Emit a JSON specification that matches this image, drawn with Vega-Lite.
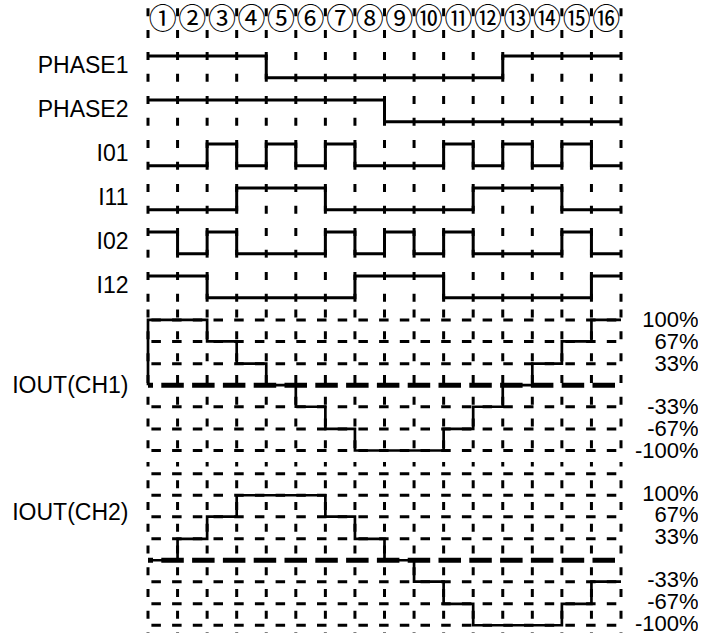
{
  "$schema": "https://vega.github.io/schema/vega-lite/v6.json",
  "background": "white",
  "padding": {"left": 11, "top": 0, "right": 0, "bottom": 0},
  "spacing": 0,
  "bounds": "flush",
  "config": {
    "view": {"stroke": null},
    "mark": {"color": "black"},
    "axis": {"domain": false, "ticks": false, "tickSize": 0, "grid": false, "labels": false,
      "titleFont": "Liberation Sans", "titleFontSize": 23, "titleFontWeight": "normal", "titleColor": "#000",
      "labelFont": "Liberation Sans", "labelFontSize": 22, "labelColor": "#000"},
    "axisY": {"titleAngle": 0, "titleAlign": "right", "titleBaseline": "middle", "titleX": -20}
  },
  "datasets": {
    "ticks": [{"t":0},{"t":1},{"t":2},{"t":3},{"t":4},{"t":5},{"t":6},{"t":7},{"t":8},{"t":9},{"t":10},{"t":11},{"t":12},{"t":13},{"t":14},{"t":15},{"t":16}],
    "slots": [{"t":0.5,"label":"①"},{"t":1.5,"label":"②"},{"t":2.5,"label":"③"},{"t":3.5,"label":"④"},{"t":4.5,"label":"⑤"},{"t":5.5,"label":"⑥"},{"t":6.5,"label":"⑦"},{"t":7.5,"label":"⑧"},{"t":8.5,"label":"⑨"},{"t":9.5,"label":"⑩"},{"t":10.5,"label":"⑪"},{"t":11.5,"label":"⑫"},{"t":12.5,"label":"⑬"},{"t":13.5,"label":"⑭"},{"t":14.5,"label":"⑮"},{"t":15.5,"label":"⑯"}],
    "grid1": [{"p":100},{"p":67},{"p":33},{"p":-33},{"p":-67},{"p":-100}],
    "grid2": [{"p":133},{"p":100},{"p":67},{"p":33},{"p":-33},{"p":-67},{"p":-100}],
    "signals": [
      {"s":"PHASE1","t":0,"v":1},{"s":"PHASE1","t":1,"v":1},{"s":"PHASE1","t":2,"v":1},{"s":"PHASE1","t":3,"v":1},{"s":"PHASE1","t":4,"v":0},{"s":"PHASE1","t":5,"v":0},{"s":"PHASE1","t":6,"v":0},{"s":"PHASE1","t":7,"v":0},{"s":"PHASE1","t":8,"v":0},{"s":"PHASE1","t":9,"v":0},{"s":"PHASE1","t":10,"v":0},{"s":"PHASE1","t":11,"v":0},{"s":"PHASE1","t":12,"v":1},{"s":"PHASE1","t":13,"v":1},{"s":"PHASE1","t":14,"v":1},{"s":"PHASE1","t":15,"v":1},{"s":"PHASE1","t":16,"v":1},
      {"s":"PHASE2","t":0,"v":1},{"s":"PHASE2","t":1,"v":1},{"s":"PHASE2","t":2,"v":1},{"s":"PHASE2","t":3,"v":1},{"s":"PHASE2","t":4,"v":1},{"s":"PHASE2","t":5,"v":1},{"s":"PHASE2","t":6,"v":1},{"s":"PHASE2","t":7,"v":1},{"s":"PHASE2","t":8,"v":0},{"s":"PHASE2","t":9,"v":0},{"s":"PHASE2","t":10,"v":0},{"s":"PHASE2","t":11,"v":0},{"s":"PHASE2","t":12,"v":0},{"s":"PHASE2","t":13,"v":0},{"s":"PHASE2","t":14,"v":0},{"s":"PHASE2","t":15,"v":0},{"s":"PHASE2","t":16,"v":0},
      {"s":"I01","t":0,"v":0},{"s":"I01","t":1,"v":0},{"s":"I01","t":2,"v":1},{"s":"I01","t":3,"v":0},{"s":"I01","t":4,"v":1},{"s":"I01","t":5,"v":0},{"s":"I01","t":6,"v":1},{"s":"I01","t":7,"v":0},{"s":"I01","t":8,"v":0},{"s":"I01","t":9,"v":0},{"s":"I01","t":10,"v":1},{"s":"I01","t":11,"v":0},{"s":"I01","t":12,"v":1},{"s":"I01","t":13,"v":0},{"s":"I01","t":14,"v":1},{"s":"I01","t":15,"v":0},{"s":"I01","t":16,"v":0},
      {"s":"I11","t":0,"v":0},{"s":"I11","t":1,"v":0},{"s":"I11","t":2,"v":0},{"s":"I11","t":3,"v":1},{"s":"I11","t":4,"v":1},{"s":"I11","t":5,"v":1},{"s":"I11","t":6,"v":0},{"s":"I11","t":7,"v":0},{"s":"I11","t":8,"v":0},{"s":"I11","t":9,"v":0},{"s":"I11","t":10,"v":0},{"s":"I11","t":11,"v":1},{"s":"I11","t":12,"v":1},{"s":"I11","t":13,"v":1},{"s":"I11","t":14,"v":0},{"s":"I11","t":15,"v":0},{"s":"I11","t":16,"v":0},
      {"s":"I02","t":0,"v":1},{"s":"I02","t":1,"v":0},{"s":"I02","t":2,"v":1},{"s":"I02","t":3,"v":0},{"s":"I02","t":4,"v":0},{"s":"I02","t":5,"v":0},{"s":"I02","t":6,"v":1},{"s":"I02","t":7,"v":0},{"s":"I02","t":8,"v":1},{"s":"I02","t":9,"v":0},{"s":"I02","t":10,"v":1},{"s":"I02","t":11,"v":0},{"s":"I02","t":12,"v":0},{"s":"I02","t":13,"v":0},{"s":"I02","t":14,"v":1},{"s":"I02","t":15,"v":0},{"s":"I02","t":16,"v":0},
      {"s":"I12","t":0,"v":1},{"s":"I12","t":1,"v":1},{"s":"I12","t":2,"v":0},{"s":"I12","t":3,"v":0},{"s":"I12","t":4,"v":0},{"s":"I12","t":5,"v":0},{"s":"I12","t":6,"v":0},{"s":"I12","t":7,"v":1},{"s":"I12","t":8,"v":1},{"s":"I12","t":9,"v":1},{"s":"I12","t":10,"v":0},{"s":"I12","t":11,"v":0},{"s":"I12","t":12,"v":0},{"s":"I12","t":13,"v":0},{"s":"I12","t":14,"v":0},{"s":"I12","t":15,"v":1},{"s":"I12","t":16,"v":1},
      {"s":"CH1","t":0,"v":0},{"s":"CH1","t":0,"v":100},{"s":"CH1","t":1,"v":100},{"s":"CH1","t":2,"v":67},{"s":"CH1","t":3,"v":33},{"s":"CH1","t":4,"v":0},{"s":"CH1","t":5,"v":-33},{"s":"CH1","t":6,"v":-67},{"s":"CH1","t":7,"v":-100},{"s":"CH1","t":8,"v":-100},{"s":"CH1","t":9,"v":-100},{"s":"CH1","t":10,"v":-67},{"s":"CH1","t":11,"v":-33},{"s":"CH1","t":12,"v":0},{"s":"CH1","t":13,"v":33},{"s":"CH1","t":14,"v":67},{"s":"CH1","t":15,"v":100},{"s":"CH1","t":16,"v":100},
      {"s":"CH2","t":0,"v":0},{"s":"CH2","t":1,"v":33},{"s":"CH2","t":2,"v":67},{"s":"CH2","t":3,"v":100},{"s":"CH2","t":4,"v":100},{"s":"CH2","t":5,"v":100},{"s":"CH2","t":6,"v":67},{"s":"CH2","t":7,"v":33},{"s":"CH2","t":8,"v":0},{"s":"CH2","t":9,"v":-33},{"s":"CH2","t":10,"v":-67},{"s":"CH2","t":11,"v":-100},{"s":"CH2","t":12,"v":-100},{"s":"CH2","t":13,"v":-100},{"s":"CH2","t":14,"v":-67},{"s":"CH2","t":15,"v":-33},{"s":"CH2","t":16,"v":-33}
    ]
  },
  "vconcat": [
    {
      "width": 473, "height": 42.6,
      "layer": [
        {"data": {"name": "ticks"}, "mark": {"type": "rule", "strokeDash": [8, 13.77], "strokeDashOffset": 15.5, "strokeWidth": 3},
         "encoding": {"x": {"field": "t", "type": "quantitative", "scale": {"domain": [0, 16], "nice": false, "zero": false}, "axis": null}}},
        {"data": {"name": "slots"}, "mark": {"type": "text", "font": "Noto Sans CJK JP", "fontSize": 28, "baseline": "middle", "dy": -2},
         "encoding": {"x": {"field": "t", "type": "quantitative", "scale": {"domain": [0, 16], "nice": false, "zero": false}, "axis": null}, "text": {"field": "label"}}}
      ]
    },
    {
      "width": 473, "height": 43.54,
      "layer": [
        {"data": {"name": "ticks"}, "mark": {"type": "rule", "strokeDash": [8, 13.77], "strokeDashOffset": 14.89, "strokeWidth": 3},
         "encoding": {"x": {"field": "t", "type": "quantitative", "scale": {"domain": [0, 16], "nice": false, "zero": false}, "axis": null}}},
        {"data": {"name": "signals"}, "transform": [{"filter": "datum.s === 'PHASE1'"}], "mark": {"type": "line", "interpolate": "step-after", "strokeWidth": 3},
         "encoding": {"x": {"field": "t", "type": "quantitative", "scale": {"domain": [0, 16], "nice": false, "zero": false}, "axis": null},
           "y": {"field": "v", "type": "quantitative", "scale": {"domain": [-0.5, 1.5], "nice": false, "zero": false}, "axis": {"title": "PHASE1", "titleY": 20.5}}}}
      ]
    },
    {
      "width": 473, "height": 43.54,
      "layer": [
        {"data": {"name": "ticks"}, "mark": {"type": "rule", "strokeDash": [8, 13.77], "strokeDashOffset": 14.89, "strokeWidth": 3},
         "encoding": {"x": {"field": "t", "type": "quantitative", "scale": {"domain": [0, 16], "nice": false, "zero": false}, "axis": null}}},
        {"data": {"name": "signals"}, "transform": [{"filter": "datum.s === 'PHASE2'"}], "mark": {"type": "line", "interpolate": "step-after", "strokeWidth": 3},
         "encoding": {"x": {"field": "t", "type": "quantitative", "scale": {"domain": [0, 16], "nice": false, "zero": false}, "axis": null},
           "y": {"field": "v", "type": "quantitative", "scale": {"domain": [-0.5, 1.5], "nice": false, "zero": false}, "axis": {"title": "PHASE2", "titleY": 20.5}}}}
      ]
    },
    {
      "width": 473, "height": 43.54,
      "layer": [
        {"data": {"name": "ticks"}, "mark": {"type": "rule", "strokeDash": [8, 13.77], "strokeDashOffset": 14.89, "strokeWidth": 3},
         "encoding": {"x": {"field": "t", "type": "quantitative", "scale": {"domain": [0, 16], "nice": false, "zero": false}, "axis": null}}},
        {"data": {"name": "signals"}, "transform": [{"filter": "datum.s === 'I01'"}], "mark": {"type": "line", "interpolate": "step-after", "strokeWidth": 3},
         "encoding": {"x": {"field": "t", "type": "quantitative", "scale": {"domain": [0, 16], "nice": false, "zero": false}, "axis": null},
           "y": {"field": "v", "type": "quantitative", "scale": {"domain": [-0.5, 1.5], "nice": false, "zero": false}, "axis": {"title": "I01", "titleY": 20.5}}}}
      ]
    },
    {
      "width": 473, "height": 43.54,
      "layer": [
        {"data": {"name": "ticks"}, "mark": {"type": "rule", "strokeDash": [8, 13.77], "strokeDashOffset": 14.89, "strokeWidth": 3},
         "encoding": {"x": {"field": "t", "type": "quantitative", "scale": {"domain": [0, 16], "nice": false, "zero": false}, "axis": null}}},
        {"data": {"name": "signals"}, "transform": [{"filter": "datum.s === 'I11'"}], "mark": {"type": "line", "interpolate": "step-after", "strokeWidth": 3},
         "encoding": {"x": {"field": "t", "type": "quantitative", "scale": {"domain": [0, 16], "nice": false, "zero": false}, "axis": null},
           "y": {"field": "v", "type": "quantitative", "scale": {"domain": [-0.5, 1.5], "nice": false, "zero": false}, "axis": {"title": "I11", "titleY": 20.5}}}}
      ]
    },
    {
      "width": 473, "height": 43.54,
      "layer": [
        {"data": {"name": "ticks"}, "mark": {"type": "rule", "strokeDash": [8, 13.77], "strokeDashOffset": 14.89, "strokeWidth": 3},
         "encoding": {"x": {"field": "t", "type": "quantitative", "scale": {"domain": [0, 16], "nice": false, "zero": false}, "axis": null}}},
        {"data": {"name": "signals"}, "transform": [{"filter": "datum.s === 'I02'"}], "mark": {"type": "line", "interpolate": "step-after", "strokeWidth": 3},
         "encoding": {"x": {"field": "t", "type": "quantitative", "scale": {"domain": [0, 16], "nice": false, "zero": false}, "axis": null},
           "y": {"field": "v", "type": "quantitative", "scale": {"domain": [-0.5, 1.5], "nice": false, "zero": false}, "axis": {"title": "I02", "titleY": 20.5}}}}
      ]
    },
    {
      "width": 473, "height": 43.54,
      "layer": [
        {"data": {"name": "ticks"}, "mark": {"type": "rule", "strokeDash": [8, 13.77], "strokeDashOffset": 14.89, "strokeWidth": 3},
         "encoding": {"x": {"field": "t", "type": "quantitative", "scale": {"domain": [0, 16], "nice": false, "zero": false}, "axis": null}}},
        {"data": {"name": "signals"}, "transform": [{"filter": "datum.s === 'I12'"}], "mark": {"type": "line", "interpolate": "step-after", "strokeWidth": 3},
         "encoding": {"x": {"field": "t", "type": "quantitative", "scale": {"domain": [0, 16], "nice": false, "zero": false}, "axis": null},
           "y": {"field": "v", "type": "quantitative", "scale": {"domain": [-0.5, 1.5], "nice": false, "zero": false}, "axis": {"title": "I12", "titleY": 20.5}}}}
      ]
    },
    {
      "width": 473, "height": 152.4,
      "resolve": {"axis": {"y": "independent"}},
      "layer": [
        {"data": {"name": "ticks"}, "mark": {"type": "rule", "strokeDash": [8, 13.77], "strokeDashOffset": 21.17, "strokeWidth": 3},
         "encoding": {"x": {"field": "t", "type": "quantitative", "scale": {"domain": [0, 16], "nice": false, "zero": false}, "axis": null}}},
        {"data": {"name": "grid1"}, "mark": {"type": "rule", "strokeDash": [9.5, 11.2], "strokeDashOffset": 16, "strokeWidth": 3},
         "encoding": {"y": {"field": "p", "type": "quantitative", "scale": {"domain": [-116.67, 116.67], "nice": false, "zero": false},
           "axis": {"orient": "right", "title": null, "labels": true, "values": [100, 67, 33, -33, -67, -100], "labelExpr": "datum.value + '%'", "labelAlign": "right", "labelPadding": 77, "labelBaseline": "middle", "labelOverlap": false, "labelBound": false, "labelFlush": false}}}},
        {"data": {"name": "ticks"}, "transform": [{"filter": "datum.t === 0"}], "mark": {"type": "rule", "strokeDash": [22.5, 8.3], "strokeDashOffset": 24.8, "strokeWidth": 5},
         "encoding": {"y": {"datum": 0, "type": "quantitative", "scale": {"domain": [-116.67, 116.67], "nice": false, "zero": false}, "axis": null}}},
        {"data": {"name": "signals"}, "transform": [{"filter": "datum.s === 'CH1'"}], "mark": {"type": "line", "interpolate": "step-after", "strokeWidth": 2.7},
         "encoding": {"x": {"field": "t", "type": "quantitative", "scale": {"domain": [0, 16], "nice": false, "zero": false}, "axis": null},
           "y": {"field": "v", "type": "quantitative", "scale": {"domain": [-116.67, 116.67], "nice": false, "zero": false}, "axis": {"title": "IOUT(CH1)", "titleY": 76.2}}}}
      ]
    },
    {
      "width": 473, "height": 175.26,
      "resolve": {"axis": {"y": "independent"}},
      "layer": [
        {"data": {"name": "ticks"}, "mark": {"type": "rule", "strokeDash": [8, 13.77], "strokeDashOffset": 3.57, "strokeWidth": 3},
         "encoding": {"x": {"field": "t", "type": "quantitative", "scale": {"domain": [0, 16], "nice": false, "zero": false}, "axis": null}}},
        {"data": {"name": "grid2"}, "mark": {"type": "rule", "strokeDash": [9.5, 11.2], "strokeDashOffset": 16, "strokeWidth": 3},
         "encoding": {"y": {"field": "p", "type": "quantitative", "scale": {"domain": [-118.5, 151.2], "nice": false, "zero": false},
           "axis": {"orient": "right", "title": null, "labels": true, "values": [100, 67, 33, -33, -67, -100], "labelExpr": "datum.value + '%'", "labelAlign": "right", "labelPadding": 77, "labelBaseline": "middle", "labelOffset": -2, "labelOverlap": false, "labelBound": false, "labelFlush": false}}}},
        {"data": {"name": "ticks"}, "transform": [{"filter": "datum.t === 0"}], "mark": {"type": "rule", "strokeDash": [22.5, 8.3], "strokeDashOffset": 24.8, "strokeWidth": 5},
         "encoding": {"y": {"datum": 0, "type": "quantitative", "scale": {"domain": [-118.5, 151.2], "nice": false, "zero": false}, "axis": null}}},
        {"data": {"name": "signals"}, "transform": [{"filter": "datum.s === 'CH2'"}], "mark": {"type": "line", "interpolate": "step-after", "strokeWidth": 2.7},
         "encoding": {"x": {"field": "t", "type": "quantitative", "scale": {"domain": [0, 16], "nice": false, "zero": false}, "axis": null},
           "y": {"field": "v", "type": "quantitative", "scale": {"domain": [-118.5, 151.2], "nice": false, "zero": false}, "axis": {"title": "IOUT(CH2)", "titleY": 50}}}}
      ]
    }
  ]
}
